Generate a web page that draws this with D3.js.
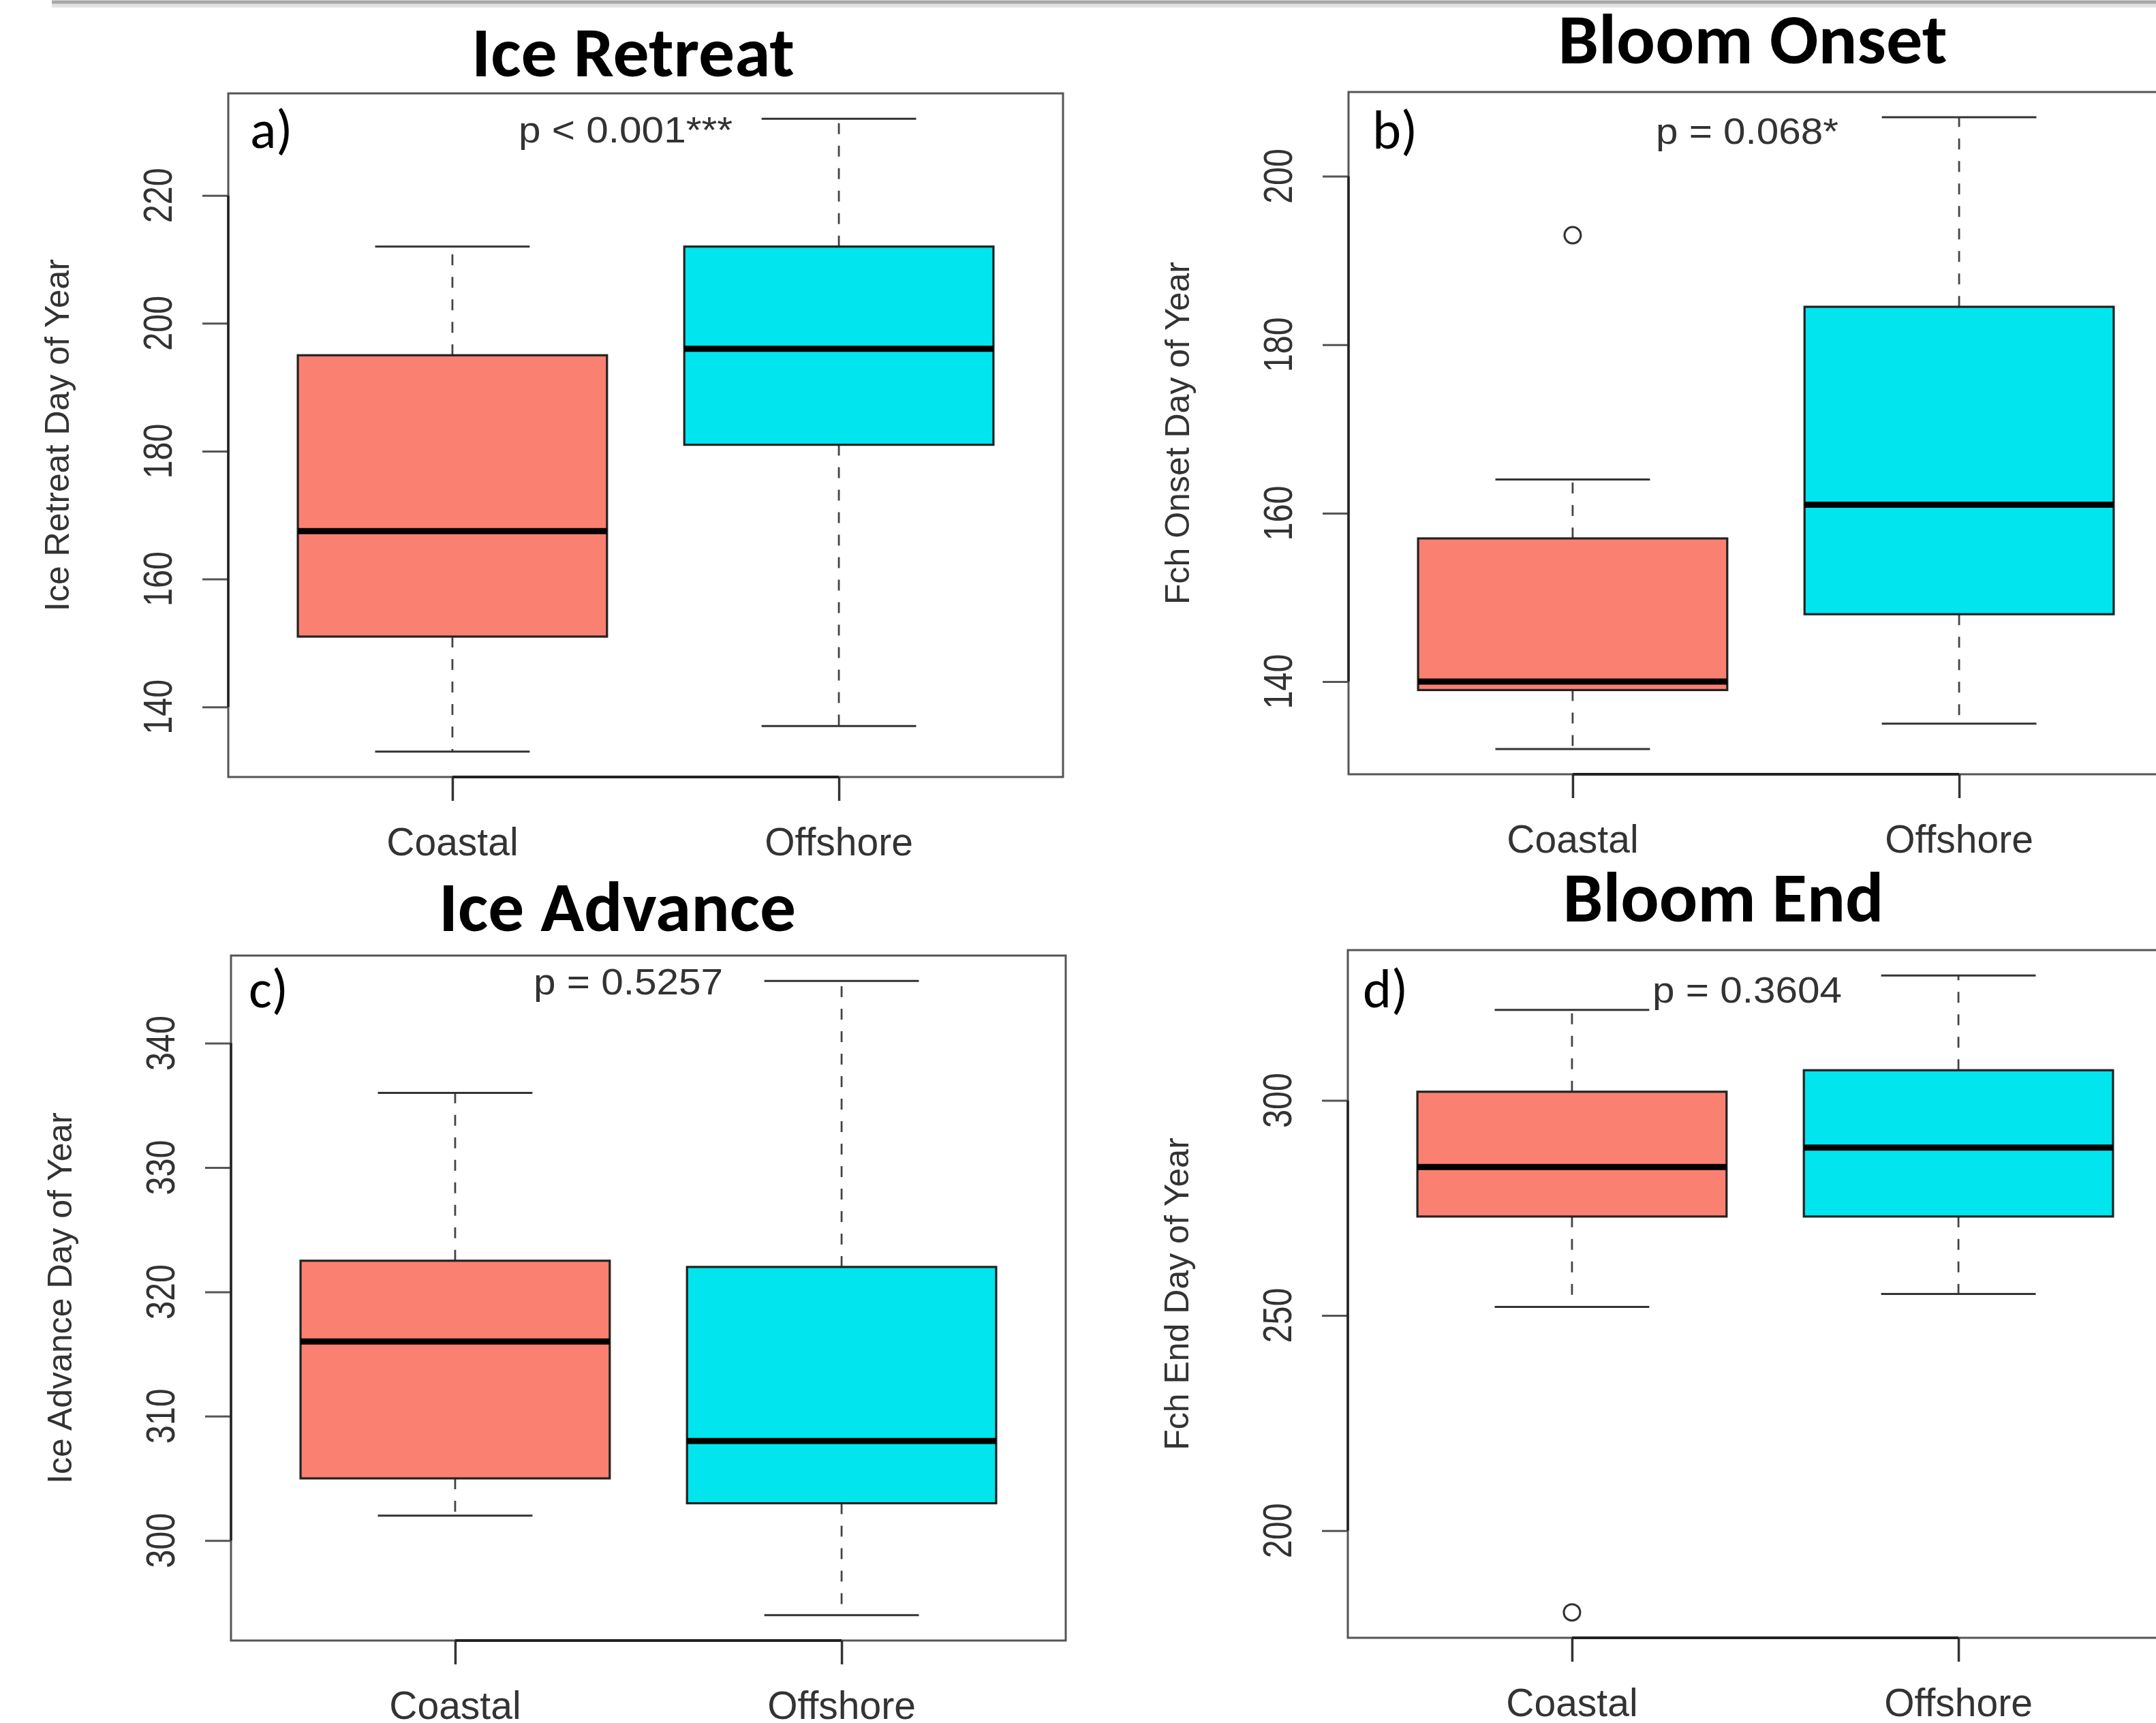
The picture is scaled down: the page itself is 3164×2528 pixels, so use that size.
<!DOCTYPE html>
<html>
<head>
<meta charset="utf-8">
<script src="https://cdn.jsdelivr.net/npm/d3@7"></script>
<style>
  html, body { margin: 0; padding: 0; background: #ffffff; }
  svg { display: block; }
</style>
</head>
<body>
<svg id="chart" width="3164" height="2528"></svg>
<script>
// ---------------- DATA ----------------
const groups = ["Coastal", "Offshore"];
const panelTitles = ["Ice Retreat", "Bloom Onset", "Ice Advance", "Bloom End"];
const panelLetters = ["a)", "b)", "c)", "d)"];
const pLabels = ["p < 0.001***", "p = 0.068*", "p = 0.5257", "p = 0.3604"];
const yTitles = ["Ice Retreat Day of Year", "Fch Onset Day of Year", "Ice Advance Day of Year", "Fch End Day of Year"];

// five-number summaries: [lower whisker, Q1, median, Q3, upper whisker]
const iceRetreatCoastal  = [133, 151, 167.5, 195, 212];
const iceRetreatOffshore = [137, 181, 196, 212, 232];
const bloomOnsetCoastal  = [132, 139, 140, 157, 164];
const bloomOnsetOffshore = [135, 148, 161, 184.5, 207];
const iceAdvanceCoastal  = [302, 305, 316, 322.5, 336];
const iceAdvanceOffshore = [294, 303, 308, 322, 345];
const bloomEndCoastal    = [252, 273, 284.5, 302, 321];
const bloomEndOffshore   = [255, 273, 289, 307, 329];

// outliers per group
const iceRetreatOutliers = [[], []];
const bloomOnsetOutliers = [[193], []];
const iceAdvanceOutliers = [[], []];
const bloomEndOutliers   = [[181], []];

// y tick labels
const iceRetreatTicks = [140, 160, 180, 200, 220];
const bloomOnsetTicks = [140, 160, 180, 200];
const iceAdvanceTicks = [300, 310, 320, 330, 340];
const bloomEndTicks   = [200, 250, 300];

// ---------------- LAYOUT ----------------
const layout = [
  { x0: 335,  y0: 137,  w: 1225, h: 1003, tcx: 929,  tby: 112,  tw: 474, lx: 367,  ly: 217,  px: 761,  py: 209,  pw: 314 },
  { x0: 1979, y0: 135,  w: 1225, h: 1001, tcx: 2572, tby: 93,   tw: 571, lx: 2014, ly: 218,  px: 2430, py: 211,  pw: 268 },
  { x0: 339,  y0: 1402, w: 1225, h: 1005, tcx: 906,  tby: 1366, tw: 524, lx: 365,  ly: 1478, px: 783,  py: 1459, pw: 278 },
  { x0: 1978, y0: 1394, w: 1225, h: 1009, tcx: 2529, tby: 1352, tw: 471, lx: 2000, ly: 1478, px: 2425, py: 1471, pw: 278 }
];

const summaries = [
  [iceRetreatCoastal, iceRetreatOffshore],
  [bloomOnsetCoastal, bloomOnsetOffshore],
  [iceAdvanceCoastal, iceAdvanceOffshore],
  [bloomEndCoastal, bloomEndOffshore]
];
const outliers = [iceRetreatOutliers, bloomOnsetOutliers, iceAdvanceOutliers, bloomEndOutliers];
const ticks = [iceRetreatTicks, bloomOnsetTicks, iceAdvanceTicks, bloomEndTicks];

const fills = ["#FA8072", "#00E5EE"];
const rFont = "'Liberation Sans', Arial, Helvetica, sans-serif";
const titleFont = "Carlito, Lato, 'Open Sans', sans-serif";

const svg = d3.select("#chart");

// slide top edge line
svg.append("line").attr("x1", 76).attr("x2", 3164).attr("y1", 8).attr("y2", 8)
  .attr("stroke", "#e2e2e2").attr("stroke-width", 6);
svg.append("line").attr("x1", 76).attr("x2", 3164).attr("y1", 3).attr("y2", 3)
  .attr("stroke", "#a8a8a8").attr("stroke-width", 5);

layout.forEach((L, i) => {
  const g = svg.append("g");
  const all = summaries[i].flat().concat(outliers[i].flat());
  const lo = d3.min(all), hi = d3.max(all);
  const pad = (hi - lo) * 0.04;
  const y = d3.scaleLinear().domain([lo - pad, hi + pad]).range([L.y0 + L.h, L.y0]);
  const x = d3.scaleLinear().domain([0.42, 2.58]).range([L.x0, L.x0 + L.w]);
  const unit = x(2) - x(1);
  const bottom = L.y0 + L.h;

  // title
  g.append("text")
    .attr("x", L.tcx).attr("y", L.tby)
    .attr("text-anchor", "middle")
    .attr("font-family", titleFont).attr("font-weight", 700)
    .attr("font-size", 104)
    .attr("textLength", L.tw).attr("lengthAdjust", "spacingAndGlyphs")
    .attr("fill", "#000")
    .text(panelTitles[i]);

  // boxes
  summaries[i].forEach((s, j) => {
    const cx = x(j + 1);
    const bw = unit * 0.8;
    const sw = bw * 0.5;
    // whiskers (dashed)
    g.append("line").attr("x1", cx).attr("x2", cx).attr("y1", y(s[3])).attr("y2", y(s[4]))
      .attr("stroke", "#444").attr("stroke-width", 2.8).attr("stroke-dasharray", "16,17");
    g.append("line").attr("x1", cx).attr("x2", cx).attr("y1", y(s[1])).attr("y2", y(s[0]))
      .attr("stroke", "#444").attr("stroke-width", 2.8).attr("stroke-dasharray", "16,17");
    // staples
    [s[0], s[4]].forEach(v => {
      g.append("line").attr("x1", cx - sw / 2).attr("x2", cx + sw / 2).attr("y1", y(v)).attr("y2", y(v))
        .attr("stroke", "#333").attr("stroke-width", 3);
    });
    // box
    g.append("rect").attr("x", cx - bw / 2).attr("y", y(s[3]))
      .attr("width", bw).attr("height", y(s[1]) - y(s[3]))
      .attr("fill", fills[j]).attr("stroke", "#222").attr("stroke-width", 3.2);
    // median
    g.append("line").attr("x1", cx - bw / 2).attr("x2", cx + bw / 2).attr("y1", y(s[2])).attr("y2", y(s[2]))
      .attr("stroke", "#000").attr("stroke-width", 9);
    // outliers
    outliers[i][j].forEach(v => {
      g.append("circle").attr("cx", cx).attr("cy", y(v)).attr("r", 12)
        .attr("fill", "none").attr("stroke", "#333").attr("stroke-width", 3);
    });
  });

  // frame
  g.append("rect").attr("x", L.x0).attr("y", L.y0).attr("width", L.w).attr("height", L.h)
    .attr("fill", "none").attr("stroke", "#555").attr("stroke-width", 3);

  // y axis
  const yAxis = d3.axisLeft(y).tickValues(ticks[i]).tickSize(38).tickFormat("");
  const ya = g.append("g").attr("transform", `translate(${L.x0},0)`).call(yAxis);
  ya.select(".domain").remove();
  ya.selectAll(".tick line").attr("stroke", "#555").attr("stroke-width", 3);
  const yt = ticks[i];
  g.append("line").attr("x1", L.x0).attr("x2", L.x0).attr("y1", y(yt[0])).attr("y2", y(yt[yt.length - 1]))
    .attr("stroke", "#222").attr("stroke-width", 3.5);
  yt.forEach(t => {
    g.append("text")
      .attr("transform", `translate(${L.x0 - 83},${y(t)}) rotate(-90)`)
      .attr("text-anchor", "middle")
      .attr("font-family", rFont).attr("font-size", 60)
      .attr("textLength", 81).attr("lengthAdjust", "spacingAndGlyphs")
      .attr("fill", "#333")
      .text(t);
  });

  // y title
  g.append("text")
    .attr("transform", `translate(${L.x0 - 234},${L.y0 + L.h / 2}) rotate(-90)`)
    .attr("text-anchor", "middle")
    .attr("font-family", rFont).attr("font-size", 50)
    .attr("fill", "#333")
    .text(yTitles[i]);

  // x axis
  const xAxis = d3.axisBottom(x).tickValues([1, 2]).tickSize(35).tickFormat("");
  const xa = g.append("g").attr("transform", `translate(0,${bottom})`).call(xAxis);
  xa.select(".domain").remove();
  xa.selectAll(".tick line").attr("stroke", "#333").attr("stroke-width", 3.5);
  g.append("line").attr("x1", x(1)).attr("x2", x(2)).attr("y1", bottom).attr("y2", bottom)
    .attr("stroke", "#222").attr("stroke-width", 4);
  groups.forEach((grp, j) => {
    g.append("text")
      .attr("x", x(j + 1)).attr("y", bottom + 115)
      .attr("text-anchor", "middle")
      .attr("font-family", rFont).attr("font-size", 57)
      .attr("fill", "#333")
      .text(grp);
  });

  // panel letter
  g.append("text")
    .attr("x", L.lx).attr("y", L.ly)
    .attr("font-family", titleFont).attr("font-size", 80)
    .attr("fill", "#000")
    .text(panelLetters[i]);

  // p-value
  g.append("text")
    .attr("x", L.px).attr("y", L.py)
    .attr("font-family", rFont).attr("font-size", 54)
    .attr("textLength", L.pw).attr("lengthAdjust", "spacingAndGlyphs")
    .attr("fill", "#333")
    .text(pLabels[i]);
});
</script>
</body>
</html>
